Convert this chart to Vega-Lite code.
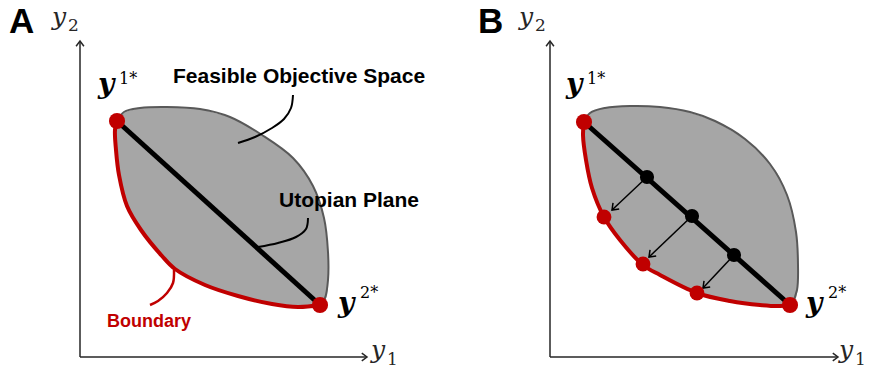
{
  "$schema": "https://vega.github.io/schema/vega-lite/v6.json",
  "width": 872,
  "height": 372,
  "autosize": {"type": "fit", "contains": "padding"},
  "padding": 0,
  "background": "white",
  "config": {"view": {"stroke": null}},
  "datasets": {
    "fill": [
      {"panel": "A", "x": 116, "top": 122, "bottom": 145},
      {"panel": "A", "x": 118, "top": 117, "bottom": 170},
      {"panel": "A", "x": 124, "top": 113, "bottom": 195},
      {"panel": "A", "x": 132, "top": 110, "bottom": 215},
      {"panel": "A", "x": 141, "top": 108, "bottom": 230},
      {"panel": "A", "x": 152, "top": 107, "bottom": 245},
      {"panel": "A", "x": 167, "top": 107, "bottom": 260},
      {"panel": "A", "x": 180, "top": 108, "bottom": 272},
      {"panel": "A", "x": 200, "top": 109, "bottom": 282},
      {"panel": "A", "x": 215, "top": 113, "bottom": 289},
      {"panel": "A", "x": 230, "top": 117, "bottom": 294},
      {"panel": "A", "x": 245, "top": 125, "bottom": 298},
      {"panel": "A", "x": 262, "top": 135, "bottom": 302},
      {"panel": "A", "x": 280, "top": 147, "bottom": 305},
      {"panel": "A", "x": 293, "top": 158, "bottom": 306},
      {"panel": "A", "x": 305, "top": 173, "bottom": 307},
      {"panel": "A", "x": 313, "top": 186, "bottom": 307},
      {"panel": "A", "x": 320, "top": 205, "bottom": 305},
      {"panel": "A", "x": 324, "top": 218, "bottom": 301},
      {"panel": "A", "x": 327, "top": 240, "bottom": 296},
      {"panel": "A", "x": 328, "top": 255, "bottom": 285},
      {"panel": "B", "x": 585, "top": 119, "bottom": 145},
      {"panel": "B", "x": 588, "top": 115, "bottom": 168},
      {"panel": "B", "x": 592, "top": 112, "bottom": 188},
      {"panel": "B", "x": 598, "top": 110, "bottom": 204},
      {"panel": "B", "x": 604, "top": 108, "bottom": 217},
      {"panel": "B", "x": 612, "top": 107, "bottom": 229},
      {"panel": "B", "x": 620, "top": 107, "bottom": 240},
      {"panel": "B", "x": 632, "top": 106, "bottom": 253},
      {"panel": "B", "x": 643, "top": 106, "bottom": 265},
      {"panel": "B", "x": 660, "top": 107, "bottom": 275},
      {"panel": "B", "x": 678, "top": 109, "bottom": 284},
      {"panel": "B", "x": 697, "top": 115, "bottom": 293},
      {"panel": "B", "x": 715, "top": 121, "bottom": 297},
      {"panel": "B", "x": 730, "top": 130, "bottom": 301},
      {"panel": "B", "x": 745, "top": 139, "bottom": 303},
      {"panel": "B", "x": 760, "top": 152, "bottom": 305},
      {"panel": "B", "x": 770, "top": 164, "bottom": 306},
      {"panel": "B", "x": 780, "top": 178, "bottom": 306},
      {"panel": "B", "x": 787, "top": 195, "bottom": 305},
      {"panel": "B", "x": 792, "top": 210, "bottom": 304},
      {"panel": "B", "x": 796, "top": 232, "bottom": 298},
      {"panel": "B", "x": 798, "top": 262, "bottom": 288}
    ],
    "outline": [
      {"panel": "A", "i": 0, "x": 117, "y": 121},
      {"panel": "A", "i": 1, "x": 124, "y": 112},
      {"panel": "A", "i": 2, "x": 140, "y": 108},
      {"panel": "A", "i": 3, "x": 167, "y": 107},
      {"panel": "A", "i": 4, "x": 200, "y": 109},
      {"panel": "A", "i": 5, "x": 230, "y": 117},
      {"panel": "A", "i": 6, "x": 262, "y": 135},
      {"panel": "A", "i": 7, "x": 293, "y": 158},
      {"panel": "A", "i": 8, "x": 313, "y": 186},
      {"panel": "A", "i": 9, "x": 324, "y": 218},
      {"panel": "A", "i": 10, "x": 328, "y": 252},
      {"panel": "A", "i": 11, "x": 328, "y": 280},
      {"panel": "A", "i": 12, "x": 325, "y": 298},
      {"panel": "A", "i": 13, "x": 320, "y": 305},
      {"panel": "B", "i": 0, "x": 584, "y": 122},
      {"panel": "B", "i": 1, "x": 590, "y": 113},
      {"panel": "B", "i": 2, "x": 605, "y": 108},
      {"panel": "B", "i": 3, "x": 630, "y": 106},
      {"panel": "B", "i": 4, "x": 660, "y": 107},
      {"panel": "B", "i": 5, "x": 690, "y": 112},
      {"panel": "B", "i": 6, "x": 715, "y": 121},
      {"panel": "B", "i": 7, "x": 745, "y": 139},
      {"panel": "B", "i": 8, "x": 770, "y": 164},
      {"panel": "B", "i": 9, "x": 787, "y": 195},
      {"panel": "B", "i": 10, "x": 796, "y": 232},
      {"panel": "B", "i": 11, "x": 798, "y": 265},
      {"panel": "B", "i": 12, "x": 797, "y": 290},
      {"panel": "B", "i": 13, "x": 792, "y": 303},
      {"panel": "B", "i": 14, "x": 790, "y": 305}
    ],
    "boundary": [
      {"panel": "A", "i": 0, "x": 117, "y": 121},
      {"panel": "A", "i": 1, "x": 115, "y": 130},
      {"panel": "A", "i": 2, "x": 116, "y": 150},
      {"panel": "A", "i": 3, "x": 119, "y": 175},
      {"panel": "A", "i": 4, "x": 127, "y": 206},
      {"panel": "A", "i": 5, "x": 141, "y": 230},
      {"panel": "A", "i": 6, "x": 162, "y": 256},
      {"panel": "A", "i": 7, "x": 175, "y": 269},
      {"panel": "A", "i": 8, "x": 205, "y": 285},
      {"panel": "A", "i": 9, "x": 238, "y": 296},
      {"panel": "A", "i": 10, "x": 272, "y": 304},
      {"panel": "A", "i": 11, "x": 298, "y": 307},
      {"panel": "A", "i": 12, "x": 320, "y": 305},
      {"panel": "B", "i": 0, "x": 584, "y": 122},
      {"panel": "B", "i": 1, "x": 583, "y": 135},
      {"panel": "B", "i": 2, "x": 586, "y": 160},
      {"panel": "B", "i": 3, "x": 592, "y": 188},
      {"panel": "B", "i": 4, "x": 604, "y": 217},
      {"panel": "B", "i": 5, "x": 620, "y": 240},
      {"panel": "B", "i": 6, "x": 643, "y": 265},
      {"panel": "B", "i": 7, "x": 660, "y": 275},
      {"panel": "B", "i": 8, "x": 697, "y": 293},
      {"panel": "B", "i": 9, "x": 730, "y": 301},
      {"panel": "B", "i": 10, "x": 760, "y": 305},
      {"panel": "B", "i": 11, "x": 780, "y": 306},
      {"panel": "B", "i": 12, "x": 790, "y": 305}
    ],
    "leaders": [
      {"line": "feasible", "i": 0, "x": 293, "y": 95},
      {"line": "feasible", "i": 1, "x": 291, "y": 108},
      {"line": "feasible", "i": 2, "x": 284, "y": 119},
      {"line": "feasible", "i": 3, "x": 272, "y": 128},
      {"line": "feasible", "i": 4, "x": 255, "y": 137},
      {"line": "feasible", "i": 5, "x": 238, "y": 143},
      {"line": "utopian", "i": 0, "x": 308, "y": 218},
      {"line": "utopian", "i": 1, "x": 306, "y": 229},
      {"line": "utopian", "i": 2, "x": 296, "y": 237},
      {"line": "utopian", "i": 3, "x": 278, "y": 243},
      {"line": "utopian", "i": 4, "x": 258, "y": 247},
      {"line": "boundary", "i": 0, "x": 174, "y": 270},
      {"line": "boundary", "i": 1, "x": 173, "y": 283},
      {"line": "boundary", "i": 2, "x": 167, "y": 293},
      {"line": "boundary", "i": 3, "x": 158, "y": 301},
      {"line": "boundary", "i": 4, "x": 150, "y": 305}
    ],
    "utopia": [
      {"panel": "A", "x": 117, "y": 121, "x2": 320, "y2": 305},
      {"panel": "B", "x": 584, "y": 122, "x2": 790, "y2": 305}
    ],
    "axes": [
      {"panel": "A", "x": 80, "y": 357, "x2": 80, "y2": 41},
      {"panel": "A", "x": 80, "y": 357, "x2": 367, "y2": 357},
      {"panel": "B", "x": 550, "y": 357, "x2": 550, "y2": 41},
      {"panel": "B", "x": 550, "y": 357, "x2": 838, "y2": 357}
    ],
    "arrows": [
      {"x": 647, "y": 177, "x2": 612, "y2": 210},
      {"x": 692, "y": 216, "x2": 649, "y2": 257},
      {"x": 734, "y": 255, "x2": 703, "y2": 288}
    ],
    "heads": [
      {"dir": "up", "x": 80, "y": 41},
      {"dir": "right", "x": 367, "y": 357},
      {"dir": "up", "x": 550, "y": 41},
      {"dir": "right", "x": 838, "y": 357},
      {"dir": "normal", "x": 612, "y": 210},
      {"dir": "normal", "x": 649, "y": 257},
      {"dir": "normal", "x": 703, "y": 288}
    ],
    "points": [
      {"panel": "A", "kind": "end", "x": 117, "y": 121},
      {"panel": "A", "kind": "end", "x": 320, "y": 305},
      {"panel": "B", "kind": "end", "x": 584, "y": 122},
      {"panel": "B", "kind": "end", "x": 790, "y": 305},
      {"panel": "B", "kind": "black", "x": 647, "y": 177},
      {"panel": "B", "kind": "black", "x": 692, "y": 216},
      {"panel": "B", "kind": "black", "x": 734, "y": 255},
      {"panel": "B", "kind": "red", "x": 604, "y": 217},
      {"panel": "B", "kind": "red", "x": 643, "y": 264},
      {"panel": "B", "kind": "red", "x": 697, "y": 293}
    ],
    "labels": [
      {"kind": "panel", "text": "A", "x": 9, "y": 33},
      {"kind": "panel", "text": "B", "x": 478, "y": 33},
      {"kind": "axisvar", "text": "y", "x": 52, "y": 25},
      {"kind": "axisvar", "text": "y", "x": 371, "y": 358},
      {"kind": "axisvar", "text": "y", "x": 519, "y": 25},
      {"kind": "axisvar", "text": "y", "x": 839, "y": 358},
      {"kind": "axissub", "text": "2", "x": 68, "y": 31},
      {"kind": "axissub", "text": "1", "x": 387, "y": 365},
      {"kind": "axissub", "text": "2", "x": 535, "y": 31},
      {"kind": "axissub", "text": "1", "x": 855, "y": 365},
      {"kind": "ideal", "text": "y", "x": 98, "y": 93},
      {"kind": "ideal", "text": "y", "x": 338, "y": 312},
      {"kind": "ideal", "text": "y", "x": 566, "y": 93},
      {"kind": "ideal", "text": "y", "x": 806, "y": 312},
      {"kind": "idealsup", "text": "1*", "x": 119, "y": 84},
      {"kind": "idealsup", "text": "2*", "x": 360, "y": 298},
      {"kind": "idealsup", "text": "1*", "x": 587, "y": 84},
      {"kind": "idealsup", "text": "2*", "x": 828, "y": 298},
      {"kind": "note", "text": "Feasible Objective Space", "x": 173, "y": 83},
      {"kind": "note", "text": "Utopian Plane", "x": 279, "y": 207},
      {"kind": "noteRed", "text": "Boundary", "x": 107, "y": 327}
    ]
  },
  "layer": [
    {
      "data": {"name": "fill"},
      "mark": {"type": "area", "color": "#a6a6a6", "interpolate": "monotone", "opacity": 1},
      "encoding": {
        "x": {"field": "x", "type": "quantitative", "scale": {"domain": [0, 872], "nice": false, "zero": false}, "axis": null},
        "y": {"field": "top", "type": "quantitative", "scale": {"domain": [0, 372], "nice": false, "zero": false, "reverse": true}, "axis": null},
        "y2": {"field": "bottom"},
        "detail": {"field": "panel"}
      }
    },
    {
      "data": {"name": "outline"},
      "mark": {"type": "line", "color": "#595959", "strokeWidth": 2, "interpolate": "catmull-rom"},
      "encoding": {
        "x": {"field": "x", "type": "quantitative", "scale": {"domain": [0, 872], "nice": false, "zero": false}, "axis": null},
        "y": {"field": "y", "type": "quantitative", "scale": {"domain": [0, 372], "nice": false, "zero": false, "reverse": true}, "axis": null},
        "order": {"field": "i"},
        "detail": {"field": "panel"}
      }
    },
    {
      "data": {"name": "leaders"},
      "transform": [{"filter": "datum.line !== 'boundary'"}],
      "mark": {"type": "line", "color": "#000000", "strokeWidth": 2, "interpolate": "catmull-rom"},
      "encoding": {
        "x": {"field": "x", "type": "quantitative", "scale": {"domain": [0, 872], "nice": false, "zero": false}, "axis": null},
        "y": {"field": "y", "type": "quantitative", "scale": {"domain": [0, 372], "nice": false, "zero": false, "reverse": true}, "axis": null},
        "order": {"field": "i"},
        "detail": {"field": "line"}
      }
    },
    {
      "data": {"name": "leaders"},
      "transform": [{"filter": "datum.line === 'boundary'"}],
      "mark": {"type": "line", "color": "#c00000", "strokeWidth": 2.5, "interpolate": "catmull-rom"},
      "encoding": {
        "x": {"field": "x", "type": "quantitative", "scale": {"domain": [0, 872], "nice": false, "zero": false}, "axis": null},
        "y": {"field": "y", "type": "quantitative", "scale": {"domain": [0, 372], "nice": false, "zero": false, "reverse": true}, "axis": null},
        "order": {"field": "i"},
        "detail": {"field": "line"}
      }
    },
    {
      "data": {"name": "boundary"},
      "mark": {"type": "line", "color": "#c00000", "strokeWidth": 4, "interpolate": "catmull-rom", "strokeCap": "round", "strokeJoin": "round"},
      "encoding": {
        "x": {"field": "x", "type": "quantitative", "scale": {"domain": [0, 872], "nice": false, "zero": false}, "axis": null},
        "y": {"field": "y", "type": "quantitative", "scale": {"domain": [0, 372], "nice": false, "zero": false, "reverse": true}, "axis": null},
        "order": {"field": "i"},
        "detail": {"field": "panel"}
      }
    },
    {
      "data": {"name": "utopia"},
      "mark": {"type": "rule", "color": "#000000", "strokeWidth": 5},
      "encoding": {
        "x": {"field": "x", "type": "quantitative", "scale": {"domain": [0, 872], "nice": false, "zero": false}, "axis": null},
        "y": {"field": "y", "type": "quantitative", "scale": {"domain": [0, 372], "nice": false, "zero": false, "reverse": true}, "axis": null},
        "x2": {"field": "x2"},
        "y2": {"field": "y2"}
      }
    },
    {
      "data": {"name": "arrows"},
      "mark": {"type": "rule", "color": "#000000", "strokeWidth": 1.5},
      "encoding": {
        "x": {"field": "x", "type": "quantitative", "scale": {"domain": [0, 872], "nice": false, "zero": false}, "axis": null},
        "y": {"field": "y", "type": "quantitative", "scale": {"domain": [0, 372], "nice": false, "zero": false, "reverse": true}, "axis": null},
        "x2": {"field": "x2"},
        "y2": {"field": "y2"}
      }
    },
    {
      "data": {"name": "axes"},
      "mark": {"type": "rule", "color": "#262626", "strokeWidth": 1.5},
      "encoding": {
        "x": {"field": "x", "type": "quantitative", "scale": {"domain": [0, 872], "nice": false, "zero": false}, "axis": null},
        "y": {"field": "y", "type": "quantitative", "scale": {"domain": [0, 372], "nice": false, "zero": false, "reverse": true}, "axis": null},
        "x2": {"field": "x2"},
        "y2": {"field": "y2"}
      }
    },
    {
      "data": {"name": "heads"},
      "transform": [{"filter": "datum.dir === 'up'"}],
      "mark": {"type": "point", "shape": "M-0.6,0.8L0,0L0.6,0.8", "filled": false, "color": "#262626", "strokeWidth": 1.5, "size": 170, "angle": 0, "opacity": 1},
      "encoding": {
        "x": {"field": "x", "type": "quantitative", "scale": {"domain": [0, 872], "nice": false, "zero": false}, "axis": null},
        "y": {"field": "y", "type": "quantitative", "scale": {"domain": [0, 372], "nice": false, "zero": false, "reverse": true}, "axis": null}
      }
    },
    {
      "data": {"name": "heads"},
      "transform": [{"filter": "datum.dir === 'right'"}],
      "mark": {"type": "point", "shape": "M-0.6,0.8L0,0L0.6,0.8", "filled": false, "color": "#262626", "strokeWidth": 1.5, "size": 170, "angle": 90, "opacity": 1},
      "encoding": {
        "x": {"field": "x", "type": "quantitative", "scale": {"domain": [0, 872], "nice": false, "zero": false}, "axis": null},
        "y": {"field": "y", "type": "quantitative", "scale": {"domain": [0, 372], "nice": false, "zero": false, "reverse": true}, "axis": null}
      }
    },
    {
      "data": {"name": "heads"},
      "transform": [{"filter": "datum.dir === 'normal'"}],
      "mark": {"type": "point", "shape": "M-0.6,0.8L0,0L0.6,0.8", "filled": false, "color": "#000000", "strokeWidth": 1.5, "size": 210, "angle": 225, "opacity": 1},
      "encoding": {
        "x": {"field": "x", "type": "quantitative", "scale": {"domain": [0, 872], "nice": false, "zero": false}, "axis": null},
        "y": {"field": "y", "type": "quantitative", "scale": {"domain": [0, 372], "nice": false, "zero": false, "reverse": true}, "axis": null}
      }
    },
    {
      "data": {"name": "points"},
      "transform": [{"filter": "datum.kind === 'end'"}],
      "mark": {"type": "circle", "color": "#c00000", "size": 260, "opacity": 1},
      "encoding": {
        "x": {"field": "x", "type": "quantitative", "scale": {"domain": [0, 872], "nice": false, "zero": false}, "axis": null},
        "y": {"field": "y", "type": "quantitative", "scale": {"domain": [0, 372], "nice": false, "zero": false, "reverse": true}, "axis": null}
      }
    },
    {
      "data": {"name": "points"},
      "transform": [{"filter": "datum.kind === 'red'"}],
      "mark": {"type": "circle", "color": "#c00000", "size": 220, "opacity": 1},
      "encoding": {
        "x": {"field": "x", "type": "quantitative", "scale": {"domain": [0, 872], "nice": false, "zero": false}, "axis": null},
        "y": {"field": "y", "type": "quantitative", "scale": {"domain": [0, 372], "nice": false, "zero": false, "reverse": true}, "axis": null}
      }
    },
    {
      "data": {"name": "points"},
      "transform": [{"filter": "datum.kind === 'black'"}],
      "mark": {"type": "circle", "color": "#000000", "size": 200, "opacity": 1},
      "encoding": {
        "x": {"field": "x", "type": "quantitative", "scale": {"domain": [0, 872], "nice": false, "zero": false}, "axis": null},
        "y": {"field": "y", "type": "quantitative", "scale": {"domain": [0, 372], "nice": false, "zero": false, "reverse": true}, "axis": null}
      }
    },
    {
      "data": {"name": "labels"},
      "transform": [{"filter": "datum.kind === 'panel'"}],
      "mark": {"type": "text", "align": "left", "baseline": "alphabetic", "font": "Liberation Sans", "fontWeight": "bold", "fontSize": 35, "color": "#000000"},
      "encoding": {
        "x": {"field": "x", "type": "quantitative", "scale": {"domain": [0, 872], "nice": false, "zero": false}, "axis": null},
        "y": {"field": "y", "type": "quantitative", "scale": {"domain": [0, 372], "nice": false, "zero": false, "reverse": true}, "axis": null},
        "text": {"field": "text"}
      }
    },
    {
      "data": {"name": "labels"},
      "transform": [{"filter": "datum.kind === 'axisvar'"}],
      "mark": {"type": "text", "align": "left", "baseline": "alphabetic", "font": "DejaVu Serif", "fontStyle": "italic", "fontSize": 25, "color": "#262626"},
      "encoding": {
        "x": {"field": "x", "type": "quantitative", "scale": {"domain": [0, 872], "nice": false, "zero": false}, "axis": null},
        "y": {"field": "y", "type": "quantitative", "scale": {"domain": [0, 372], "nice": false, "zero": false, "reverse": true}, "axis": null},
        "text": {"field": "text"}
      }
    },
    {
      "data": {"name": "labels"},
      "transform": [{"filter": "datum.kind === 'axissub'"}],
      "mark": {"type": "text", "align": "left", "baseline": "alphabetic", "font": "DejaVu Serif", "fontSize": 17, "color": "#262626"},
      "encoding": {
        "x": {"field": "x", "type": "quantitative", "scale": {"domain": [0, 872], "nice": false, "zero": false}, "axis": null},
        "y": {"field": "y", "type": "quantitative", "scale": {"domain": [0, 372], "nice": false, "zero": false, "reverse": true}, "axis": null},
        "text": {"field": "text"}
      }
    },
    {
      "data": {"name": "labels"},
      "transform": [{"filter": "datum.kind === 'ideal'"}],
      "mark": {"type": "text", "align": "left", "baseline": "alphabetic", "font": "DejaVu Serif", "fontStyle": "italic", "fontWeight": "bold", "fontSize": 28, "color": "#000000"},
      "encoding": {
        "x": {"field": "x", "type": "quantitative", "scale": {"domain": [0, 872], "nice": false, "zero": false}, "axis": null},
        "y": {"field": "y", "type": "quantitative", "scale": {"domain": [0, 372], "nice": false, "zero": false, "reverse": true}, "axis": null},
        "text": {"field": "text"}
      }
    },
    {
      "data": {"name": "labels"},
      "transform": [{"filter": "datum.kind === 'idealsup'"}],
      "mark": {"type": "text", "align": "left", "baseline": "alphabetic", "font": "DejaVu Serif", "fontSize": 16, "color": "#000000"},
      "encoding": {
        "x": {"field": "x", "type": "quantitative", "scale": {"domain": [0, 872], "nice": false, "zero": false}, "axis": null},
        "y": {"field": "y", "type": "quantitative", "scale": {"domain": [0, 372], "nice": false, "zero": false, "reverse": true}, "axis": null},
        "text": {"field": "text"}
      }
    },
    {
      "data": {"name": "labels"},
      "transform": [{"filter": "datum.kind === 'note'"}],
      "mark": {"type": "text", "align": "left", "baseline": "alphabetic", "font": "Liberation Sans", "fontWeight": "bold", "fontSize": 21, "color": "#000000"},
      "encoding": {
        "x": {"field": "x", "type": "quantitative", "scale": {"domain": [0, 872], "nice": false, "zero": false}, "axis": null},
        "y": {"field": "y", "type": "quantitative", "scale": {"domain": [0, 372], "nice": false, "zero": false, "reverse": true}, "axis": null},
        "text": {"field": "text"}
      }
    },
    {
      "data": {"name": "labels"},
      "transform": [{"filter": "datum.kind === 'noteRed'"}],
      "mark": {"type": "text", "align": "left", "baseline": "alphabetic", "font": "Liberation Sans", "fontWeight": "bold", "fontSize": 18, "color": "#c00000"},
      "encoding": {
        "x": {"field": "x", "type": "quantitative", "scale": {"domain": [0, 872], "nice": false, "zero": false}, "axis": null},
        "y": {"field": "y", "type": "quantitative", "scale": {"domain": [0, 372], "nice": false, "zero": false, "reverse": true}, "axis": null},
        "text": {"field": "text"}
      }
    }
  ]
}
